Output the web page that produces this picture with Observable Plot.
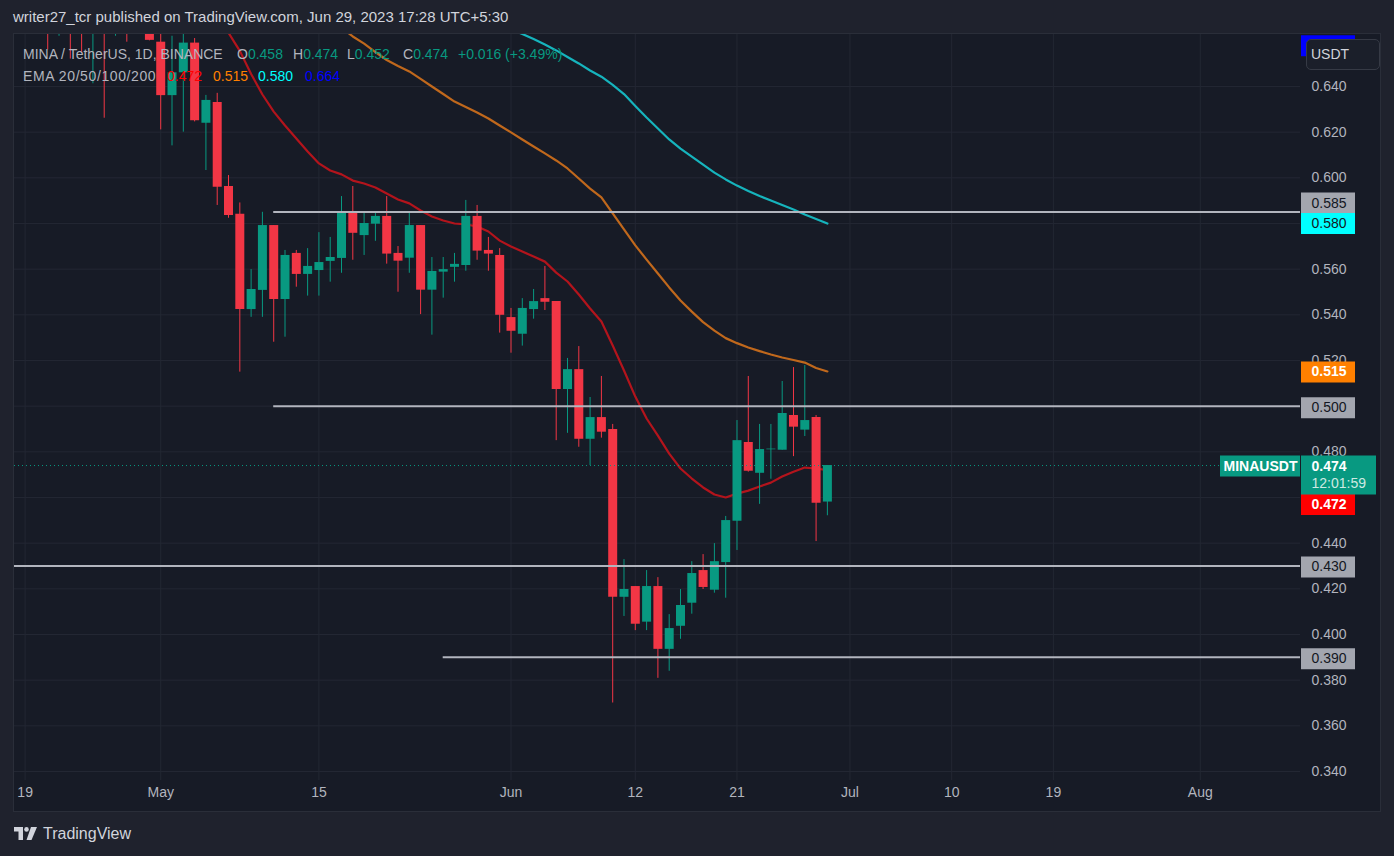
<!DOCTYPE html>
<html><head><meta charset="utf-8">
<script src="https://cdn.jsdelivr.net/npm/d3@7"></script>
<script src="https://cdn.jsdelivr.net/npm/@observablehq/plot@0.6"></script>
<style>
html,body{margin:0;padding:0;background:#1f222d;width:1394px;height:856px;overflow:hidden;font-family:"Liberation Sans",Arial,sans-serif;}
#header{position:absolute;left:13px;top:8px;color:#d1d4dc;font-size:15px;white-space:nowrap;}
#pane{position:absolute;left:13px;top:33px;width:1366px;height:777px;background:#171b26;border:1px solid #2a2e39;}
#chart{position:absolute;left:0;top:34px;}
#legend{position:absolute;left:0;top:43px;font-size:14px;color:#b2b5be;line-height:22px;white-space:nowrap;}
#legend span{position:absolute;}
#legend .g{color:#089981}
#usdt{position:absolute;left:1306px;top:39px;width:68px;height:29px;border:1px solid #363a45;border-radius:5px;background:#1b1f2a;color:#d1d4dc;font-size:14px;line-height:29px;padding-left:4px;box-sizing:content-box;}
#footer{position:absolute;left:14px;top:825px;color:#d1d4dc;font-size:16px;display:flex;align-items:center;gap:5px;}
</style></head>
<body>
<div id="header">writer27_tcr published on TradingView.com, Jun 29, 2023 17:28 UTC+5:30</div>
<div id="pane"></div>
<div id="chart"></div>
<div id="legend">
  <span style="left:23px;top:0">MINA / TetherUS, 1D, BINANCE</span>
  <span style="left:237px;top:0">O<span class="g" style="position:static">0.458</span></span>
  <span style="left:293px;top:0">H<span class="g" style="position:static">0.474</span></span>
  <span style="left:347px;top:0">L<span class="g" style="position:static">0.452</span></span>
  <span style="left:403px;top:0">C<span class="g" style="position:static">0.474</span></span>
  <span class="g" style="left:458px;top:0">+0.016 (+3.49%)</span>
  <span style="left:23px;top:22px;letter-spacing:0.6px">EMA 20/50/100/200</span>
  <span style="left:167px;top:22px;color:#ff0000">0.472</span>
  <span style="left:213px;top:22px;color:#ff8000">0.515</span>
  <span style="left:258px;top:22px;color:#00ffff">0.580</span>
  <span style="left:305px;top:22px;color:#0000ff">0.664</span>
</div>
<div id="usdt">USDT</div>
<div id="footer">
  <svg width="24" height="14" viewBox="0 0 24 14"><rect x="0" y="0" width="9" height="4.5" fill="#d1d4dc"/><rect x="4.5" y="0" width="4.5" height="13" fill="#d1d4dc"/><circle cx="12.5" cy="2.4" r="2.3" fill="#d1d4dc"/><polygon points="17,0 23,0 17.5,13 12.5,13" fill="#d1d4dc"/></svg>
  <span>TradingView</span>
</div>
<script>
// ---- data ----
const dates = ["2023-04-19","2023-04-20","2023-04-21","2023-04-22","2023-04-23","2023-04-24","2023-04-25","2023-04-26","2023-04-27","2023-04-28","2023-04-29","2023-04-30",
"2023-05-01","2023-05-02","2023-05-03","2023-05-04","2023-05-05","2023-05-06","2023-05-07","2023-05-08","2023-05-09","2023-05-10","2023-05-11","2023-05-12","2023-05-13","2023-05-14","2023-05-15","2023-05-16","2023-05-17","2023-05-18","2023-05-19","2023-05-20","2023-05-21","2023-05-22","2023-05-23","2023-05-24","2023-05-25","2023-05-26","2023-05-27","2023-05-28","2023-05-29","2023-05-30","2023-05-31",
"2023-06-01","2023-06-02","2023-06-03","2023-06-04","2023-06-05","2023-06-06","2023-06-07","2023-06-08","2023-06-09","2023-06-10","2023-06-11","2023-06-12","2023-06-13","2023-06-14","2023-06-15","2023-06-16","2023-06-17","2023-06-18","2023-06-19","2023-06-20","2023-06-21","2023-06-22","2023-06-23","2023-06-24","2023-06-25","2023-06-26","2023-06-27","2023-06-28","2023-06-29"];
const open = [.812,.770,.745,.680,.695,.672,.668,.684,.670,.680,.672,.675,
.6594,.636,.646,.659,.6239,.633,.5962,.584,.5423,.5507,.5791,.5467,.5669,.5577,.5594,.5634,.5647,.5849,.5747,.5797,.5831,.5669,.5648,.5791,.5508,.5587,.5608,.5616,.5831,.5682,.566,
.5388,.5315,.5423,.5471,.5458,.5073,.516,.4855,.495,.4898,.4163,.421,.4054,.421,.3935,.4036,.4137,.428,.4194,.4315,.4496,.4841,.4706,.4809,.4807,.4959,.4895,.495,.458];
const high = [.820,.785,.748,.705,.700,.690,.690,.700,.690,.685,.680,.680,
.663,.662,.663,.661,.6361,.637,.601,.589,.5598,.5849,.5791,.5682,.5682,.569,.576,.5739,.5918,.5962,.5849,.5849,.5918,.5699,.5849,.5791,.5651,.5651,.5669,.5901,.5879,.5739,.569,
.5428,.5471,.5511,.5612,.5458,.5209,.5261,.5038,.513,.492,.4328,.421,.428,.4249,.4087,.4197,.4319,.435,.4398,.4517,.4937,.513,.492,.492,.5108,.5169,.5178,.4959,.474];
const low = [.760,.735,.656,.662,.652,.6546,.6412,.6261,.662,.6594,.665,.660,
.621,.614,.620,.6245,.6032,.5879,.5823,.5149,.5389,.5389,.528,.5302,.5521,.5482,.5482,.5543,.5582,.5639,.566,.5722,.5622,.5499,.5582,.5401,.5311,.5473,.5543,.5591,.5639,.5591,.532,
.5232,.5263,.5381,.5419,.4849,.4881,.482,.474,.486,.370,.4079,.4017,.4017,.3808,.3839,.3979,.4089,.4197,.4181,.4159,.4368,.4711,.457,.468,.4807,.4779,.4867,.4407,.452];
const close = [.770,.745,.680,.695,.672,.668,.684,.670,.680,.672,.675,.6602,
.636,.646,.659,.625,.6339,.5959,.5835,.5423,.5511,.5791,.5467,.566,.5577,.5612,.5629,.5651,.5849,.5757,.580,.5831,.5666,.5635,.5791,.5508,.559,.5598,.5621,.5831,.5679,.5666,.5398,
.5328,.5428,.5458,.5455,.5073,.516,.4855,.495,.4886,.4163,.4197,.4045,.421,.3935,.4026,.4127,.4267,.4206,.4319,.4499,.4849,.4715,.481,.4812,.4968,.4908,.4937,.4575,.474];

const ema20Start = "2023-05-06";
const ema20 = [.672,.6635,.6556,.6455,.6365,.629,.6229,.6172,.6115,.6063,.6032,.6015,.5988,.5975,.5958,.5931,.5905,.5888,.5857,.5831,.5813,.580,.5796,.5787,.5765,.5725,
.5699,.5677,.5655,.5633,.5585,.5546,.5489,.5428,.5371,.5266,.5156,.5042,.4946,.4871,.4792,.4727,.4683,.4644,.4613,.460,.4617,.463,.4648,.4665,.4692,.4713,.4731,.4727,.472];
const ema50Start = "2023-05-17";
const ema50 = [.6658,.6619,.6588,.6551,.6516,.649,.6466,.6433,.640,.6367,.6334,.631,.6286,.626,.6229,
.6199,.6168,.6137,.6107,.6076,.6041,.5997,.5953,.5914,.5844,.5774,.5704,.5642,.5581,.552,.5463,.5414,.5368,.5331,.5298,.5276,.5257,.5241,.5226,.5213,.5202,.5191,.5167,.5152];
const ema100Start = "2023-06-01";
const ema100 = [.665,.663,.6608,.6584,.6558,.6529,.6501,.647,.6443,.6407,.6367,.6315,.6264,.6216,.6168,.6128,.6093,.6058,.6023,.5993,.5966,.5942,.592,.5901,.5881,.5861,.5839,.582,.580];

// horizontal support / resistance drawings
const levels = [0.585, 0.500, 0.430, 0.390];
const levelStarts = ["2023-05-11", "2023-05-11", null, "2023-05-26"];

// price-scale labels
const labelValues = [0.585, 0.580, 0.515, 0.500, 0.430, 0.390, 0.472, 0.664];
const labelTexts  = ["0.585","0.580","0.515","0.500","0.430","0.390","0.472",""];
const labelFills  = ["#a3a6af","#00ffff","#ff8000","#a3a6af","#a3a6af","#a3a6af","#ff0000","#0000ff"];
const labelInks   = ["#131722","#131722","#ffffff","#131722","#131722","#131722","#ffffff","#ffffff"];
const labelShift  = [-9, 0, 0, 1.5, 1, 1.5, 34.5, 14];
const lastPrice = 0.474;
const countdown = "12:01:59";
const symbol = "MINAUSDT";

// grid every 0.02; labels hidden where the price tags cover them in the reference
const yGrid = [0.34,0.36,0.38,0.40,0.42,0.44,0.46,0.48,0.50,0.52,0.54,0.56,0.58,0.60,0.62,0.64];
const yTickLabels = [0.34,0.36,0.38,0.40,0.42,0.44,0.48,0.52,0.54,0.56,0.60,0.62,0.64];
const xTickDates = ["2023-04-19","2023-05-01","2023-05-15","2023-06-01","2023-06-12","2023-06-21","2023-07-01","2023-07-10","2023-07-19","2023-08-01"];

// ---- build ----
const DAY = 864e5;
const toDate = s => new Date(s + "T00:00:00Z");
const data = dates.map((d, i) => ({date: toDate(d), open: open[i], high: high[i], low: low[i], close: close[i]}));
const seq = (start, vals) => vals.map((v, i) => ({date: new Date(toDate(start).getTime() + i * DAY), v}));

const W = 1394, H = 778, mL = 14, mR = 94, mT = 0, mB = 32;
const t0 = Date.UTC(2023, 5, 1);
const xStart = new Date(t0 - 43.94 * DAY), xEnd = new Date(t0 + 69.87 * DAY);
const pxPerDay = (W - mL - mR) / ((xEnd - xStart) / DAY);
const xOff = px => new Date(xEnd.getTime() + px / pxPerDay * DAY);

const up = "#089981", down = "#f23645";
const col = d => d.close >= d.open ? up : down;
const gridColor = "#232733";
const fmt = d3.format(".3f");
const monthFmt = d3.utcFormat("%b"), dayFmt = d3.utcFormat("%-d");

const levelData = levels.map((v, i) => ({v, start: levelStarts[i] ? toDate(levelStarts[i]) : xStart}));
const labels = labelValues.map((v, i) => ({v, t: labelTexts[i], fill: labelFills[i], ink: labelInks[i], dy: labelShift[i]}));

const marks = [
  Plot.ruleY(yGrid, {y: d => d, stroke: gridColor, strokeWidth: 1}),
  Plot.ruleX(xTickDates.map(toDate), {x: d => d, stroke: gridColor, strokeWidth: 1}),
  Plot.line(seq(ema20Start, ema20), {x: "date", y: "v", stroke: "#b3141c", strokeWidth: 2.2, clip: true}),
  Plot.line(seq(ema50Start, ema50), {x: "date", y: "v", stroke: "#c0681c", strokeWidth: 2.2, clip: true}),
  Plot.line(seq(ema100Start, ema100), {x: "date", y: "v", stroke: "#16b4bd", strokeWidth: 2.2, clip: true}),
  Plot.ruleX(data, {x: "date", y1: "low", y2: "high", stroke: col, strokeWidth: 1, clip: true}),
  Plot.ruleX(data, {x: "date", y1: "open", y2: "close", stroke: col, strokeWidth: 9, clip: true}),
  Plot.ruleY(levelData, {y: "v", x1: "start", x2: () => xEnd, stroke: "#b2b5be", strokeWidth: 2}),
  Plot.ruleY([lastPrice], {y: d => d, x1: () => xStart, x2: () => xOff(-80), stroke: up, strokeWidth: 1, strokeDasharray: "1,3"}),
  Plot.text(yTickLabels, {y: d => d, frameAnchor: "right", dx: 11, textAnchor: "start", text: fmt, fill: "#b2b5be", fontSize: 14}),
  Plot.text(xTickDates.map(toDate), {x: d => d, frameAnchor: "bottom", dy: 16, text: d => d.getUTCDate() === 1 ? monthFmt(d) : dayFmt(d), fill: "#b2b5be", fontSize: 14})
];
labels.forEach(l => {
  marks.push(Plot.ruleY([l], {y: "v", dy: l.dy, x1: () => xOff(1), x2: () => xOff(55), stroke: l.fill, strokeWidth: 21}));
  if (l.t) marks.push(Plot.text([l], {y: "v", dy: l.dy, frameAnchor: "right", dx: 11, textAnchor: "start", text: "t", fill: l.ink, fontSize: 14, fontWeight: l.ink === "#ffffff" ? "bold" : "normal"}));
});
marks.push(
  Plot.ruleY([lastPrice], {y: d => d, dy: 9.5, x1: () => xOff(1), x2: () => xOff(76), stroke: up, strokeWidth: 39}),
  Plot.text([lastPrice], {y: d => d, dy: 1, frameAnchor: "right", dx: 11, textAnchor: "start", text: fmt, fill: "#ffffff", fontSize: 14, fontWeight: "bold"}),
  Plot.text([countdown], {y: () => lastPrice, dy: 18, frameAnchor: "right", dx: 11, textAnchor: "start", text: d => d, fill: "#cfe9e3", fontSize: 14}),
  Plot.ruleY([lastPrice], {y: d => d, dy: 0.5, x1: () => xOff(-80), x2: () => xEnd, stroke: up, strokeWidth: 21}),
  Plot.text([symbol], {y: () => lastPrice, dy: 1, frameAnchor: "right", dx: -40, textAnchor: "middle", text: d => d, fill: "#ffffff", fontSize: 14, fontWeight: "bold"})
);

const chart = Plot.plot({
  width: W, height: H,
  marginLeft: mL, marginRight: mR, marginTop: mT, marginBottom: mB,
  x: {type: "utc", domain: [xStart, xEnd], axis: null},
  y: {domain: [0.33606, 0.66277], axis: null},
  style: {background: "transparent", fontFamily: "'Liberation Sans', Arial, sans-serif", overflow: "visible"},
  marks
});
document.getElementById("chart").appendChild(chart);
</script>
</body></html>
